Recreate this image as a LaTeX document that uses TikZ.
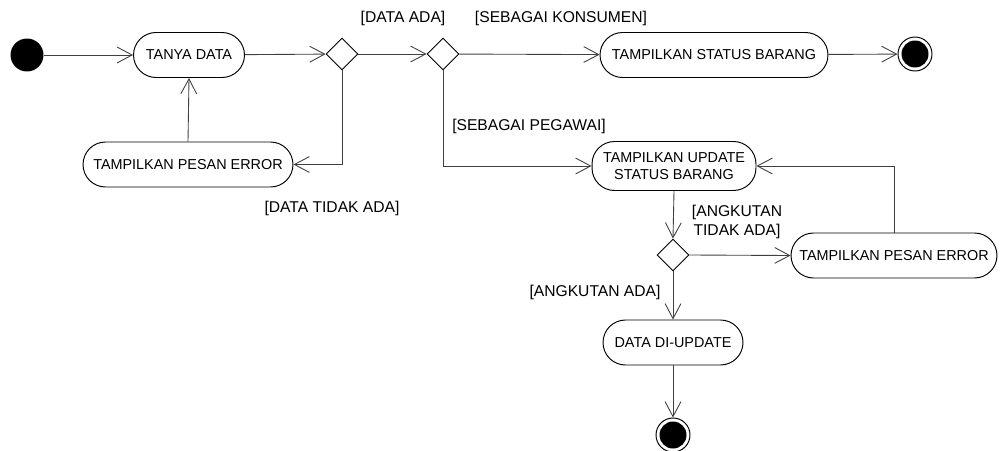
\documentclass[tikz,border=0pt]{standalone}
\usepackage{fontspec}
\setmainfont{Liberation Sans}
\usetikzlibrary{shapes.geometric,arrows.meta}
\begin{document}
\begin{tikzpicture}[x=0.02cm,y=-0.02cm,
  act/.style={draw=black, line width=0.55pt, rounded corners=0.45cm, minimum height=0.9cm, inner sep=0pt, align=center, font=\fontsize{8.2}{9.8}\selectfont},
  dec/.style={draw=black, line width=0.55pt, diamond, aspect=1, minimum size=0.64cm, inner sep=0pt},
  startnode/.style={circle, fill=black, minimum size=0.66cm, inner sep=0pt},
  endnode/.style={circle, draw=black, line width=0.55pt, minimum size=0.68cm, inner sep=0pt,
     path picture={\fill[black] (path picture bounding box.center) circle (0.27cm);}},
  flow/.style={draw=black!75, line width=0.5pt, -{Straight Barb[length=8.5pt,width=9pt,line width=0.5pt]}},
  guard/.style={font=\fontsize{8.9}{10.8}\selectfont, align=center, inner sep=0pt}
]
\useasboundingbox (0,0) rectangle (1000,450);

\node[startnode] (start) at (27,55) {};
\node[act, minimum width=2.22cm] (tanya) at (189,55) {TANYA DATA};
\node[dec] (d1) at (342,54) {};
\node[dec] (d2) at (443,54) {};
\node[act, minimum width=4.2cm] (err1) at (188,164.5) {TAMPILKAN PESAN ERROR};
\node[act, minimum width=4.56cm] (status) at (714,55) {TAMPILKAN STATUS BARANG};
\node[endnode] (end1) at (915,54) {};
\node[act, minimum width=3.28cm, minimum height=0.98cm] (upd) at (674,166) {TAMPILKAN UPDATE\\STATUS BARANG};
\node[dec] (d3) at (673,255) {};
\node[act, minimum width=4.12cm] (err2) at (894,255.5) {TAMPILKAN PESAN ERROR};
\node[act, minimum width=2.8cm] (dataup) at (673,342.5) {DATA DI-UPDATE};
\node[endnode] (end2) at (673,435) {};

\node[guard] (g1) at (403,18) {[DATA ADA]};
\node[guard] (g2) at (561,18) {[SEBAGAI KONSUMEN]};
\node[guard] (g3) at (529,126) {[SEBAGAI PEGAWAI]};
\node[guard] (g4) at (332,208) {[DATA TIDAK ADA]};
\node[guard] (g5) at (737,222) {[ANGKUTAN\\TIDAK ADA]};
\node[guard] (g6) at (595,292) {[ANGKUTAN ADA]};

\draw[flow] (start) -- (tanya);
\draw[flow] (tanya) -- (d1);
\draw[flow] (d1) -- (d2);
\draw[flow] (d1.south) |- (err1.east);
\draw[flow] (err1.north) -- (tanya.south);
\draw[flow] (d2) -- (status);
\draw[flow] (status) -- (end1);
\draw[flow] (d2.south) |- (upd.west);
\draw[flow] (upd.south) -- (d3.north);
\draw[flow] (d3.east) -- (err2.west);
\draw[flow] (err2.north) |- (upd.east);
\draw[flow] (d3.south) -- (dataup.north);
\draw[flow] (dataup.south) -- (end2.north);
\end{tikzpicture}
\end{document}
